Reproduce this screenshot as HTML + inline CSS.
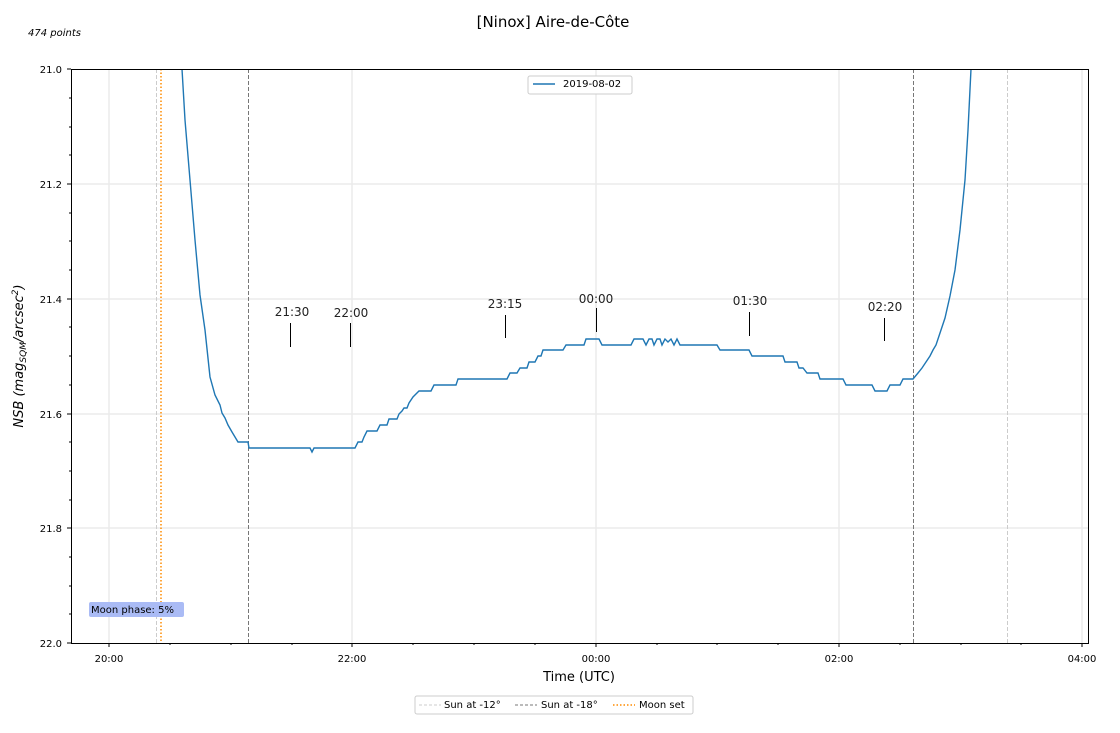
<!DOCTYPE html><html><head><meta charset="utf-8"><style>body{margin:0;background:#fff}svg text{font-family:"DejaVu Sans","Liberation Sans",sans-serif}</style></head><body>
<svg width="1120" height="728" viewBox="0 0 1120 728" xmlns="http://www.w3.org/2000/svg">
<text x="553" y="27" font-size="15" text-anchor="middle">[Ninox] Aire-de-Côte</text>
<text x="28" y="36" font-size="10" font-style="italic">474 points</text>
<g stroke="#ebebeb" stroke-width="1.5">
<line x1="109" y1="69" x2="109" y2="643"/><line x1="352" y1="69" x2="352" y2="643"/><line x1="596" y1="69" x2="596" y2="643"/><line x1="839" y1="69" x2="839" y2="643"/><line x1="1082" y1="69" x2="1082" y2="643"/>
<line x1="71" y1="184" x2="1088" y2="184"/><line x1="71" y1="299" x2="1088" y2="299"/><line x1="71" y1="414" x2="1088" y2="414"/><line x1="71" y1="528" x2="1088" y2="528"/>
</g>
<g stroke-width="1" stroke-dasharray="4,2">
<line x1="156.5" y1="69" x2="156.5" y2="643" stroke="#ccc"/><line x1="1007.5" y1="69" x2="1007.5" y2="643" stroke="#ccc"/>
<line x1="248.5" y1="69" x2="248.5" y2="643" stroke="#777"/><line x1="913.5" y1="69" x2="913.5" y2="643" stroke="#777"/>
</g>
<line x1="161" y1="69" x2="161" y2="643" stroke="#ff8c00" stroke-width="1.5" stroke-dasharray="1.5,2"/>
<polyline fill="none" stroke="#1f77b4" stroke-width="1.4" points="182,69 185,120 190,180 195,240 200,295 205,330 210,377 215,395 220,405 222,413 225,418 228,425 232,432 235,437 238,442 248,442 249,448 310,448 312,452 314,448 355,448 358,442 362,442 364,437 367,431 377,431 380,425 387,425 389,419 397,419 399,414 402,411 404,408 407,408 409,403 413,397 419,391 431,391 434,385 456,385 458,379 507,379 510,373 517,373 520,368 527,368 529,362 535,362 538,356 541,356 543,350 563,350 566,345 584,345 586,339 599,339 602,345 631,345 634,339 643,339 646,345 649,339 652,339 654,345 657,339 660,339 662,345 665,339 668,342 671,339 674,345 677,339 680,345 717,345 720,350 749,350 752,356 783,356 785,362 797,362 799,368 803,368 807,373 818,373 820,379 843,379 846,385 872,385 875,391 887,391 890,385 900,385 903,379 913,379 918,373 922,368 926,362 930,356 933,350 936,345 940,333 945,318 950,296 955,270 960,230 965,180 968,130 971,69"/>
<g stroke="#000" stroke-width="1">
<line x1="290.5" y1="323" x2="290.5" y2="347"/><line x1="350.5" y1="323" x2="350.5" y2="347"/><line x1="505.5" y1="315" x2="505.5" y2="338"/><line x1="596.5" y1="308" x2="596.5" y2="332"/><line x1="749.5" y1="312" x2="749.5" y2="336"/><line x1="884.5" y1="318" x2="884.5" y2="341"/>
</g>
<g font-size="12" text-anchor="middle" fill="#222">
<text x="292" y="316">21:30</text><text x="351" y="317">22:00</text><text x="505" y="308">23:15</text><text x="596" y="303">00:00</text><text x="750" y="305">01:30</text><text x="885" y="311">02:20</text>
</g>
<rect x="71.5" y="69.5" width="1017" height="574" fill="none" stroke="#000" stroke-width="1"/>
<g stroke="#000" stroke-width="1">
<line x1="67" y1="69" x2="71" y2="69"/><line x1="67" y1="184" x2="71" y2="184"/><line x1="67" y1="299" x2="71" y2="299"/><line x1="67" y1="414" x2="71" y2="414"/><line x1="67" y1="528" x2="71" y2="528"/><line x1="67" y1="643" x2="71" y2="643"/>
<line x1="69" y1="98" x2="71" y2="98"/><line x1="69" y1="127" x2="71" y2="127"/><line x1="69" y1="155" x2="71" y2="155"/><line x1="69" y1="213" x2="71" y2="213"/><line x1="69" y1="241" x2="71" y2="241"/><line x1="69" y1="270" x2="71" y2="270"/><line x1="69" y1="327" x2="71" y2="327"/><line x1="69" y1="356" x2="71" y2="356"/><line x1="69" y1="385" x2="71" y2="385"/><line x1="69" y1="442" x2="71" y2="442"/><line x1="69" y1="471" x2="71" y2="471"/><line x1="69" y1="500" x2="71" y2="500"/><line x1="69" y1="557" x2="71" y2="557"/><line x1="69" y1="586" x2="71" y2="586"/><line x1="69" y1="614" x2="71" y2="614"/>
<line x1="109" y1="643" x2="109" y2="647"/><line x1="352" y1="643" x2="352" y2="647"/><line x1="596" y1="643" x2="596" y2="647"/><line x1="839" y1="643" x2="839" y2="647"/><line x1="1082" y1="643" x2="1082" y2="647"/>
<line x1="170" y1="643" x2="170" y2="645"/><line x1="231" y1="643" x2="231" y2="645"/><line x1="292" y1="643" x2="292" y2="645"/><line x1="413" y1="643" x2="413" y2="645"/><line x1="474" y1="643" x2="474" y2="645"/><line x1="535" y1="643" x2="535" y2="645"/><line x1="657" y1="643" x2="657" y2="645"/><line x1="717" y1="643" x2="717" y2="645"/><line x1="778" y1="643" x2="778" y2="645"/><line x1="900" y1="643" x2="900" y2="645"/><line x1="961" y1="643" x2="961" y2="645"/><line x1="1021" y1="643" x2="1021" y2="645"/>
</g>
<g font-size="10" text-anchor="end"><text x="62" y="73">21.0</text><text x="62" y="188">21.2</text><text x="62" y="303">21.4</text><text x="62" y="418">21.6</text><text x="62" y="532">21.8</text><text x="62" y="647">22.0</text></g>
<g font-size="10" text-anchor="middle"><text x="109" y="662">20:00</text><text x="352" y="662">22:00</text><text x="596" y="662">00:00</text><text x="839" y="662">02:00</text><text x="1082" y="662">04:00</text></g>
<text x="579" y="681" font-size="13" text-anchor="middle">Time (UTC)</text>
<text transform="translate(23,356) rotate(-90)" font-size="13" text-anchor="middle" font-style="italic">NSB (mag<tspan font-size="9" dy="3">SQM</tspan><tspan dy="-3">/arcsec</tspan><tspan font-size="9" dy="-5">2</tspan><tspan dy="5">)</tspan></text>
<rect x="89" y="602" width="95" height="15" rx="2" fill="#aabbf5"/>
<text x="91" y="613" font-size="10">Moon phase: 5%</text>
<rect x="528" y="76" width="104" height="18" rx="2" fill="#fff" stroke="#ccc"/>
<line x1="533" y1="84" x2="555" y2="84" stroke="#1f77b4" stroke-width="1.4"/>
<text x="563" y="87" font-size="10">2019-08-02</text>
<rect x="415" y="696" width="278" height="18" rx="2" fill="#fff" stroke="#ccc"/>
<line x1="419" y1="705" x2="441" y2="705" stroke="#ccc" stroke-dasharray="3,2"/><text x="444" y="708" font-size="10">Sun at -12°</text>
<line x1="515" y1="705" x2="537" y2="705" stroke="#777" stroke-dasharray="3,2"/><text x="541" y="708" font-size="10">Sun at -18°</text>
<line x1="613" y1="705" x2="635" y2="705" stroke="#ff8c00" stroke-width="1.5" stroke-dasharray="1.5,2"/><text x="639" y="708" font-size="10">Moon set</text>
</svg></body></html>
